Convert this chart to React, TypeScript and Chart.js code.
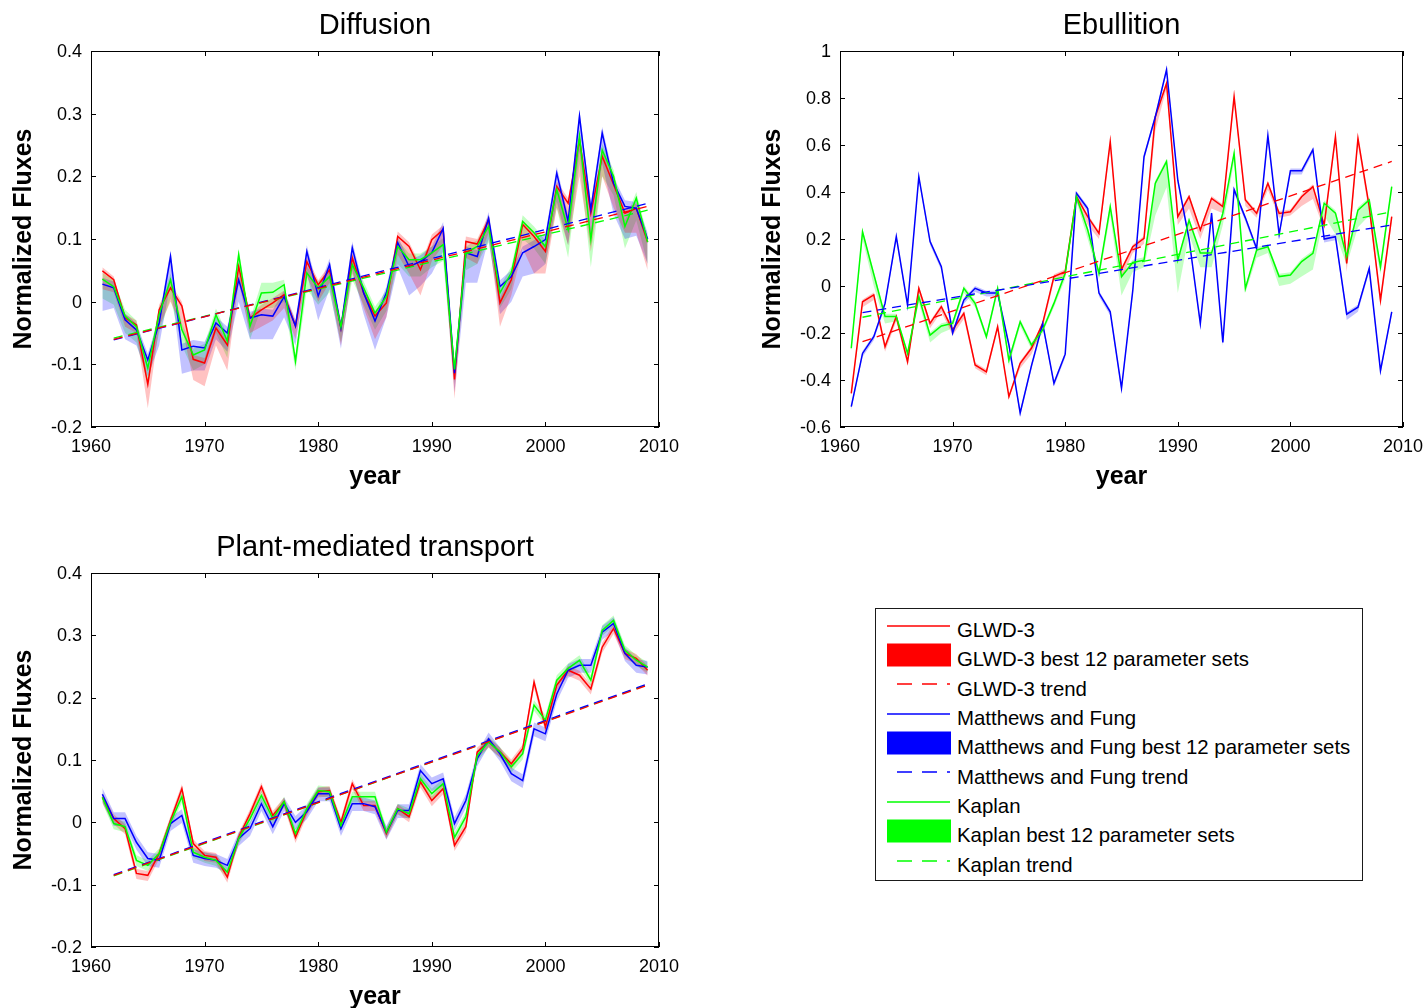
import React, { useEffect, useRef } from 'react';
import { Chart, registerables } from 'chart.js';

Chart.register(...registerables);

const FONT = '"Liberation Sans", Arial, Helvetica, sans-serif';

const RED = '#ff0000';
const BLUE = '#0000ff';
const GREEN = '#00ff00';
const RED_BAND = 'rgba(255,0,0,0.24)';
const BLUE_BAND = 'rgba(0,0,255,0.24)';
const GREEN_BAND = 'rgba(0,255,0,0.24)';

const YEARS = [
  1961, 1962, 1963, 1964, 1965, 1966, 1967, 1968, 1969, 1970,
  1971, 1972, 1973, 1974, 1975, 1976, 1977, 1978, 1979, 1980,
  1981, 1982, 1983, 1984, 1985, 1986, 1987, 1988, 1989, 1990,
  1991, 1992, 1993, 1994, 1995, 1996, 1997, 1998, 1999, 2000,
  2001, 2002, 2003, 2004, 2005, 2006, 2007, 2008, 2009,
];
const TREND_YEARS = [1962, 2009];

const X_TICKS = { min: 1960, max: 2010, step: 10 };

// ---------------- Diffusion ----------------
const DIFF_GLWD = [
  0.049, 0.035, -0.026, -0.037, -0.132, -0.013, 0.022, -0.007, -0.092, -0.098,
  -0.042, -0.069, 0.056, -0.026, -0.013, -0.002, 0.011, -0.039, 0.064, 0.027,
  0.051, -0.042, 0.070, 0.014, -0.023, -0.002, 0.104, 0.088, 0.051, 0.099,
  0.115, -0.124, 0.096, 0.092, 0.131, -0.002, 0.035, 0.123, 0.104, 0.080,
  0.184, 0.157, 0.258, 0.141, 0.232, 0.187, 0.141, 0.149, 0.095,
];
const DIFF_GLWD_LO = [
  0.020, 0.015, -0.040, -0.050, -0.170, -0.040, 0.000, -0.040, -0.125, -0.135,
  -0.070, -0.110, 0.030, -0.050, -0.040, -0.030, -0.010, -0.060, 0.040, 0.000,
  0.030, -0.070, 0.045, -0.010, -0.060, -0.025, 0.075, 0.045, 0.010, 0.065,
  0.090, -0.155, 0.070, 0.060, 0.110, -0.040, 0.010, 0.085, 0.045, 0.045,
  0.150, 0.090, 0.200, 0.080, 0.200, 0.150, 0.110, 0.110, 0.050,
];
const DIFF_GLWD_HI = [
  0.055, 0.040, -0.020, -0.030, -0.125, -0.005, 0.030, 0.000, -0.085, -0.090,
  -0.035, -0.062, 0.064, -0.020, -0.005, 0.006, 0.018, -0.032, 0.072, 0.034,
  0.058, -0.035, 0.078, 0.022, -0.015, 0.006, 0.112, 0.095, 0.058, 0.107,
  0.122, -0.116, 0.104, 0.100, 0.138, 0.006, 0.043, 0.130, 0.112, 0.088,
  0.192, 0.165, 0.266, 0.149, 0.240, 0.195, 0.149, 0.157, 0.103,
];
const DIFF_GLWD_TREND = [-0.060, 0.152];

const DIFF_MF = [
  0.028, 0.022, -0.029, -0.045, -0.093, -0.034, 0.072, -0.077, -0.071, -0.074,
  -0.034, -0.050, 0.035, -0.026, -0.021, -0.023, 0.008, -0.039, 0.080, 0.009,
  0.059, -0.042, 0.086, 0.014, -0.031, 0.014, 0.094, 0.056, 0.064, 0.078,
  0.117, -0.114, 0.078, 0.072, 0.133, 0.024, 0.040, 0.078, 0.088, 0.099,
  0.205, 0.128, 0.296, 0.147, 0.269, 0.189, 0.152, 0.149, 0.100,
];
const DIFF_MF_LO = [
  -0.015, -0.010, -0.060, -0.070, -0.120, -0.070, 0.030, -0.115, -0.110, -0.110,
  -0.060, -0.080, 0.000, -0.060, -0.060, -0.060, -0.025, -0.070, 0.045, -0.030,
  0.020, -0.075, 0.050, -0.020, -0.077, -0.025, 0.055, 0.010, 0.025, 0.045,
  0.080, -0.145, 0.030, 0.030, 0.100, -0.020, 0.000, 0.040, 0.045, 0.060,
  0.160, 0.090, 0.240, 0.100, 0.220, 0.140, 0.100, 0.105, 0.060,
];
const DIFF_MF_HI = [
  0.038, 0.032, -0.019, -0.035, -0.083, -0.024, 0.082, -0.067, -0.061, -0.064,
  -0.024, -0.040, 0.045, -0.016, -0.011, -0.013, 0.018, -0.029, 0.090, 0.019,
  0.069, -0.032, 0.096, 0.024, -0.021, 0.024, 0.104, 0.066, 0.074, 0.088,
  0.127, -0.104, 0.088, 0.082, 0.143, 0.034, 0.050, 0.088, 0.098, 0.109,
  0.215, 0.138, 0.306, 0.157, 0.279, 0.199, 0.162, 0.159, 0.110,
];
const DIFF_MF_TREND = [-0.061, 0.157];

const DIFF_KAPLAN = [
  0.036, 0.024, -0.023, -0.040, -0.106, -0.020, 0.035, -0.045, -0.085, -0.077,
  -0.021, -0.063, 0.075, -0.039, 0.014, 0.015, 0.027, -0.095, 0.046, 0.022,
  0.040, -0.040, 0.059, 0.022, -0.018, 0.008, 0.088, 0.067, 0.067, 0.078,
  0.091, -0.108, 0.078, 0.088, 0.120, 0.014, 0.046, 0.128, 0.110, 0.088,
  0.179, 0.115, 0.264, 0.099, 0.242, 0.200, 0.120, 0.165, 0.095,
];
const DIFF_KAPLAN_LO = [
  0.005, -0.005, -0.050, -0.065, -0.130, -0.050, 0.005, -0.070, -0.110, -0.100,
  -0.050, -0.090, 0.045, -0.060, -0.010, -0.010, 0.000, -0.110, 0.020, -0.005,
  0.015, -0.065, 0.035, -0.005, -0.045, -0.015, 0.060, 0.040, 0.040, 0.055,
  0.065, -0.130, 0.050, 0.060, 0.095, -0.010, 0.020, 0.100, 0.085, 0.060,
  0.150, 0.070, 0.220, 0.055, 0.200, 0.170, 0.085, 0.130, 0.060,
];
const DIFF_KAPLAN_HI = [
  0.046, 0.034, -0.013, -0.030, -0.096, -0.010, 0.045, -0.035, -0.075, -0.067,
  -0.011, -0.053, 0.085, -0.029, 0.030, 0.030, 0.035, -0.085, 0.056, 0.032,
  0.050, -0.030, 0.069, 0.032, -0.008, 0.018, 0.098, 0.077, 0.077, 0.088,
  0.101, -0.098, 0.088, 0.098, 0.130, 0.024, 0.056, 0.138, 0.120, 0.098,
  0.189, 0.125, 0.274, 0.109, 0.252, 0.210, 0.130, 0.175, 0.105,
];
const DIFF_KAPLAN_TREND = [-0.058, 0.146];

// ---------------- Ebullition ----------------
const EBUL_GLWD = [
  -0.457, -0.067, -0.038, -0.258, -0.130, -0.322, -0.010, -0.159, -0.088, -0.187,
  -0.116, -0.336, -0.365, -0.173, -0.471, -0.329, -0.265, -0.159, 0.040, 0.061,
  0.380, 0.295, 0.224, 0.614, 0.070, 0.167, 0.203, 0.720, 0.862, 0.295,
  0.380, 0.238, 0.373, 0.338, 0.806, 0.366, 0.309, 0.437, 0.309, 0.316,
  0.380, 0.423, 0.260, 0.635, 0.096, 0.628, 0.338, -0.060, 0.295,
];
const EBUL_GLWD_LO = [
  -0.470, -0.090, -0.060, -0.280, -0.150, -0.340, -0.030, -0.180, -0.110, -0.210,
  -0.140, -0.350, -0.380, -0.190, -0.480, -0.350, -0.290, -0.180, 0.020, 0.040,
  0.360, 0.260, 0.200, 0.590, 0.030, 0.140, 0.180, 0.660, 0.840, 0.260,
  0.330, 0.200, 0.330, 0.310, 0.780, 0.340, 0.290, 0.410, 0.290, 0.300,
  0.340, 0.370, 0.240, 0.610, 0.060, 0.600, 0.310, -0.090, 0.270,
];
const EBUL_GLWD_HI = [
  -0.447, -0.057, -0.028, -0.248, -0.120, -0.312, 0.000, -0.149, -0.078, -0.177,
  -0.106, -0.326, -0.355, -0.163, -0.461, -0.319, -0.255, -0.149, 0.050, 0.071,
  0.390, 0.305, 0.234, 0.624, 0.080, 0.177, 0.213, 0.730, 0.872, 0.305,
  0.390, 0.248, 0.383, 0.348, 0.816, 0.376, 0.319, 0.447, 0.319, 0.326,
  0.390, 0.433, 0.270, 0.645, 0.106, 0.638, 0.348, -0.050, 0.305,
];
const EBUL_GLWD_TREND = [-0.237, 0.530];

const EBUL_MF = [
  -0.513, -0.287, -0.216, -0.074, 0.210, -0.081, 0.465, 0.189, 0.082, -0.200,
  -0.060, -0.010, -0.030, -0.030, -0.250, -0.540, -0.340, -0.160, -0.414, -0.290,
  0.394, 0.330, -0.030, -0.110, -0.435, -0.020, 0.550, 0.720, 0.920, 0.450,
  0.200, -0.160, 0.310, -0.240, 0.410, 0.290, 0.160, 0.640, 0.220, 0.490,
  0.490, 0.580, 0.200, 0.210, -0.120, -0.090, 0.075, -0.360, -0.110,
];
const EBUL_MF_LO = [
  -0.528, -0.302, -0.231, -0.089, 0.195, -0.096, 0.450, 0.174, 0.067, -0.215,
  -0.075, -0.025, -0.045, -0.045, -0.265, -0.555, -0.355, -0.175, -0.429, -0.305,
  0.379, 0.315, -0.045, -0.125, -0.450, -0.035, 0.535, 0.705, 0.905, 0.435,
  0.185, -0.175, 0.295, -0.255, 0.395, 0.275, 0.145, 0.625, 0.205, 0.475,
  0.475, 0.565, 0.185, 0.195, -0.145, -0.110, 0.060, -0.375, -0.125,
];
const EBUL_MF_HI = [
  -0.503, -0.277, -0.206, -0.064, 0.220, -0.071, 0.475, 0.199, 0.092, -0.190,
  -0.050, 0.000, -0.020, -0.020, -0.240, -0.530, -0.330, -0.150, -0.404, -0.280,
  0.404, 0.340, -0.020, -0.100, -0.425, -0.010, 0.560, 0.730, 0.930, 0.460,
  0.210, -0.150, 0.320, -0.230, 0.420, 0.300, 0.170, 0.650, 0.230, 0.500,
  0.500, 0.590, 0.210, 0.220, -0.110, -0.080, 0.085, -0.350, -0.100,
];
const EBUL_MF_TREND = [-0.113, 0.260];

const EBUL_KAPLAN = [
  -0.265, 0.231, 0.050, -0.130, -0.130, -0.287, -0.045, -0.209, -0.170, -0.159,
  -0.010, -0.074, -0.216, -0.010, -0.315, -0.152, -0.251, -0.187, -0.074, 0.054,
  0.380, 0.238, 0.054, 0.338, 0.040, 0.100, 0.110, 0.437, 0.530, 0.110,
  0.280, 0.140, 0.140, 0.310, 0.565, -0.010, 0.153, 0.167, 0.040, 0.047,
  0.104, 0.139, 0.352, 0.310, 0.125, 0.323, 0.366, 0.082, 0.423,
];
const EBUL_KAPLAN_LO = [
  -0.280, 0.200, 0.000, -0.160, -0.150, -0.300, -0.070, -0.240, -0.200, -0.180,
  -0.030, -0.090, -0.230, -0.030, -0.340, -0.170, -0.270, -0.200, -0.090, 0.030,
  0.360, 0.200, 0.030, 0.300, -0.040, 0.060, 0.080, 0.300, 0.420, -0.030,
  0.220, 0.080, 0.080, 0.260, 0.530, -0.030, 0.120, 0.140, 0.000, 0.010,
  0.040, 0.070, 0.300, 0.220, 0.090, 0.250, 0.300, 0.050, 0.400,
];
const EBUL_KAPLAN_HI = [
  -0.253, 0.243, 0.062, -0.118, -0.118, -0.275, -0.033, -0.197, -0.158, -0.147,
  0.002, -0.062, -0.204, 0.002, -0.303, -0.140, -0.239, -0.175, -0.062, 0.066,
  0.392, 0.250, 0.066, 0.350, 0.052, 0.112, 0.122, 0.449, 0.542, 0.122,
  0.292, 0.152, 0.152, 0.322, 0.577, 0.002, 0.165, 0.179, 0.052, 0.059,
  0.116, 0.151, 0.364, 0.322, 0.137, 0.335, 0.378, 0.094, 0.435,
];
const EBUL_KAPLAN_TREND = [-0.133, 0.316];

// ---------------- Plant-mediated transport ----------------
const PLANT_GLWD = [
  0.040, 0.006, -0.010, -0.082, -0.085, -0.050, 0.003, 0.054, -0.034, -0.053,
  -0.056, -0.088, -0.024, 0.014, 0.057, 0.011, 0.033, -0.024, 0.019, 0.049,
  0.051, 0.000, 0.062, 0.027, 0.027, -0.018, 0.022, 0.009, 0.065, 0.035,
  0.054, -0.037, -0.007, 0.113, 0.129, 0.113, 0.094, 0.118, 0.225, 0.153,
  0.220, 0.244, 0.236, 0.214, 0.281, 0.311, 0.271, 0.263, 0.244,
];
const PLANT_GLWD_LO = [
  0.031, -0.003, -0.019, -0.091, -0.094, -0.059, -0.006, 0.045, -0.043, -0.062,
  -0.065, -0.097, -0.033, 0.005, 0.048, 0.002, 0.024, -0.033, 0.010, 0.040,
  0.042, -0.009, 0.053, 0.018, 0.018, -0.027, 0.013, 0.000, 0.056, 0.026,
  0.045, -0.046, -0.016, 0.104, 0.120, 0.104, 0.085, 0.109, 0.216, 0.144,
  0.211, 0.235, 0.227, 0.205, 0.272, 0.302, 0.262, 0.254, 0.235,
];
const PLANT_GLWD_HI = [
  0.047, 0.013, -0.003, -0.075, -0.078, -0.043, 0.010, 0.061, -0.027, -0.046,
  -0.049, -0.081, -0.017, 0.021, 0.064, 0.018, 0.040, -0.017, 0.026, 0.056,
  0.058, 0.007, 0.069, 0.034, 0.034, -0.011, 0.029, 0.016, 0.072, 0.042,
  0.061, -0.030, 0.000, 0.120, 0.136, 0.120, 0.101, 0.125, 0.232, 0.160,
  0.227, 0.251, 0.243, 0.221, 0.288, 0.318, 0.278, 0.270, 0.251,
];
const PLANT_GLWD_TREND = [-0.085, 0.220];

const PLANT_MF = [
  0.045, 0.006, 0.006, -0.032, -0.058, -0.061, -0.002, 0.011, -0.053, -0.058,
  -0.061, -0.069, -0.026, -0.010, 0.030, -0.007, 0.030, 0.000, 0.017, 0.046,
  0.046, -0.010, 0.030, 0.030, 0.025, -0.016, 0.019, 0.019, 0.083, 0.062,
  0.070, -0.002, 0.035, 0.102, 0.134, 0.110, 0.078, 0.067, 0.150, 0.142,
  0.206, 0.244, 0.252, 0.252, 0.305, 0.319, 0.271, 0.252, 0.249,
];
const PLANT_MF_LO = [
  0.033, -0.006, -0.006, -0.044, -0.070, -0.073, -0.014, -0.001, -0.065, -0.070,
  -0.073, -0.081, -0.038, -0.022, 0.018, -0.019, 0.018, -0.012, 0.005, 0.034,
  0.034, -0.022, 0.018, 0.018, 0.013, -0.028, 0.007, 0.007, 0.071, 0.050,
  0.058, -0.014, 0.023, 0.090, 0.122, 0.098, 0.066, 0.055, 0.138, 0.130,
  0.194, 0.232, 0.240, 0.240, 0.293, 0.307, 0.259, 0.240, 0.237,
];
const PLANT_MF_HI = [
  0.055, 0.016, 0.016, -0.022, -0.048, -0.051, 0.008, 0.021, -0.043, -0.048,
  -0.051, -0.059, -0.016, 0.000, 0.040, 0.003, 0.040, 0.010, 0.027, 0.056,
  0.056, 0.000, 0.040, 0.040, 0.035, -0.006, 0.029, 0.029, 0.093, 0.072,
  0.080, 0.008, 0.045, 0.112, 0.144, 0.120, 0.088, 0.077, 0.160, 0.152,
  0.216, 0.254, 0.262, 0.262, 0.315, 0.329, 0.281, 0.262, 0.259,
];
const PLANT_MF_TREND = [-0.084, 0.222];

const PLANT_KAPLAN = [
  0.040, -0.002, -0.007, -0.061, -0.069, -0.050, 0.000, 0.041, -0.048, -0.056,
  -0.061, -0.080, -0.026, 0.006, 0.043, 0.006, 0.033, -0.018, 0.022, 0.051,
  0.049, -0.005, 0.041, 0.041, 0.041, -0.016, 0.022, 0.014, 0.070, 0.046,
  0.062, -0.024, 0.009, 0.107, 0.129, 0.113, 0.089, 0.110, 0.188, 0.164,
  0.228, 0.247, 0.260, 0.228, 0.308, 0.324, 0.276, 0.260, 0.249,
];
const PLANT_KAPLAN_LO = [
  0.031, -0.011, -0.016, -0.070, -0.078, -0.059, -0.009, 0.032, -0.057, -0.065,
  -0.070, -0.089, -0.035, -0.003, 0.034, -0.003, 0.024, -0.027, 0.013, 0.042,
  0.040, -0.014, 0.032, 0.032, 0.032, -0.025, 0.013, 0.005, 0.061, 0.037,
  0.053, -0.033, 0.000, 0.098, 0.120, 0.104, 0.080, 0.101, 0.179, 0.155,
  0.219, 0.238, 0.251, 0.219, 0.299, 0.315, 0.267, 0.251, 0.240,
];
const PLANT_KAPLAN_HI = [
  0.048, 0.006, 0.001, -0.053, -0.061, -0.042, 0.008, 0.049, -0.040, -0.048,
  -0.053, -0.072, -0.018, 0.014, 0.051, 0.014, 0.041, -0.010, 0.030, 0.059,
  0.057, 0.003, 0.049, 0.049, 0.049, -0.008, 0.030, 0.022, 0.078, 0.054,
  0.070, -0.016, 0.017, 0.115, 0.137, 0.121, 0.097, 0.118, 0.196, 0.172,
  0.236, 0.255, 0.268, 0.236, 0.316, 0.332, 0.284, 0.268, 0.257,
];
const PLANT_KAPLAN_TREND = [-0.086, 0.221];

const LEGEND_LABELS = [
  'GLWD-3',
  'GLWD-3 best 12 parameter sets',
  'GLWD-3 trend',
  'Matthews and Fung',
  'Matthews and Fung best 12 parameter sets',
  'Matthews and Fung trend',
  'Kaplan',
  'Kaplan best 12 parameter sets',
  'Kaplan trend',
];

type Series = {
  color: string;
  band: string;
  line: number[];
  lo: number[];
  hi: number[];
  trend: number[];
};

type PanelSpec = {
  title: string;
  left: number;
  top: number;
  width: number;
  height: number;
  padRight: number;
  yAxisWidth: number;
  xAxisHeight: number;
  yTitlePad: number;
  xTitlePad: number;
  yMin: number;
  yMax: number;
  yStep: number;
  series: Series[];
};

const PANELS: PanelSpec[] = [
  {
    title: 'Diffusion',
    left: 0, top: 0, width: 700, height: 500,
    padRight: 41, yAxisWidth: 91, xAxisHeight: 73, yTitlePad: 9, xTitlePad: 8,
    yMin: -0.2, yMax: 0.4, yStep: 0.1,
    series: [
      { color: RED, band: RED_BAND, line: DIFF_GLWD, lo: DIFF_GLWD_LO, hi: DIFF_GLWD_HI, trend: DIFF_GLWD_TREND },
      { color: BLUE, band: BLUE_BAND, line: DIFF_MF, lo: DIFF_MF_LO, hi: DIFF_MF_HI, trend: DIFF_MF_TREND },
      { color: GREEN, band: GREEN_BAND, line: DIFF_KAPLAN, lo: DIFF_KAPLAN_LO, hi: DIFF_KAPLAN_HI, trend: DIFF_KAPLAN_TREND },
    ],
  },
  {
    title: 'Ebullition',
    left: 750, top: 0, width: 678, height: 500,
    padRight: 25, yAxisWidth: 90, xAxisHeight: 73, yTitlePad: 8.5, xTitlePad: 8,
    yMin: -0.6, yMax: 1, yStep: 0.2,
    series: [
      { color: RED, band: RED_BAND, line: EBUL_GLWD, lo: EBUL_GLWD_LO, hi: EBUL_GLWD_HI, trend: EBUL_GLWD_TREND },
      { color: BLUE, band: BLUE_BAND, line: EBUL_MF, lo: EBUL_MF_LO, hi: EBUL_MF_HI, trend: EBUL_MF_TREND },
      { color: GREEN, band: GREEN_BAND, line: EBUL_KAPLAN, lo: EBUL_KAPLAN_LO, hi: EBUL_KAPLAN_HI, trend: EBUL_KAPLAN_TREND },
    ],
  },
  {
    title: 'Plant-mediated transport',
    left: 0, top: 522, width: 700, height: 486,
    padRight: 41, yAxisWidth: 91, xAxisHeight: 61, yTitlePad: 9, xTitlePad: -4,
    yMin: -0.2, yMax: 0.4, yStep: 0.1,
    series: [
      { color: RED, band: RED_BAND, line: PLANT_GLWD, lo: PLANT_GLWD_LO, hi: PLANT_GLWD_HI, trend: PLANT_GLWD_TREND },
      { color: BLUE, band: BLUE_BAND, line: PLANT_MF, lo: PLANT_MF_LO, hi: PLANT_MF_HI, trend: PLANT_MF_TREND },
      { color: GREEN, band: GREEN_BAND, line: PLANT_KAPLAN, lo: PLANT_KAPLAN_LO, hi: PLANT_KAPLAN_HI, trend: PLANT_KAPLAN_TREND },
    ],
  },
];

const LINE_WIDTH = 1.5;
const TREND_DASH = [9, 6];

function toPoints(xs: number[], ys: number[]) {
  return xs.map((x, i) => ({ x, y: ys[i] }));
}

function buildDatasets(series: Series[]) {
  const datasets: any[] = [];
  // shaded spread of the 12 best parameter sets (upper edge, then lower edge filled to it)
  series.forEach((s) => {
    const hiIndex = datasets.length;
    datasets.push({
      data: toPoints(YEARS, s.hi),
      borderColor: 'rgba(0,0,0,0)',
      borderWidth: 0,
      pointRadius: 0,
      fill: false,
      order: 10,
    });
    datasets.push({
      data: toPoints(YEARS, s.lo),
      borderColor: 'rgba(0,0,0,0)',
      borderWidth: 0,
      pointRadius: 0,
      backgroundColor: s.band,
      fill: { target: hiIndex },
      order: 10,
    });
  });
  // best-fit series
  series.forEach((s, k) => {
    datasets.push({
      data: toPoints(YEARS, s.line),
      borderColor: s.color,
      borderWidth: LINE_WIDTH,
      pointRadius: 0,
      fill: false,
      order: 3 - k,
    });
  });
  // linear trends
  series.forEach((s) => {
    datasets.push({
      data: toPoints(TREND_YEARS, s.trend),
      borderColor: s.color,
      borderWidth: 1.3,
      borderDash: TREND_DASH,
      pointRadius: 0,
      fill: false,
      order: 0,
    });
  });
  return datasets;
}

function formatY(v: number) {
  return String(parseFloat(v.toFixed(1)));
}

// Box frame with inward tick marks on all four sides, plus tick labels
const axesFrame = {
  id: 'axesFrame',
  afterDraw(chart: any) {
    const { ctx, chartArea: a, scales } = chart;
    const xs = scales.x;
    const ys = scales.y;
    const tickLen = 5;
    ctx.save();
    ctx.strokeStyle = '#000';
    ctx.lineWidth = 1;
    ctx.strokeRect(a.left + 0.5, a.top + 0.5, a.right - a.left - 1, a.bottom - a.top - 1);
    ctx.beginPath();
    xs.ticks.forEach((t: any) => {
      const px = Math.round(xs.getPixelForValue(t.value)) + 0.5;
      ctx.moveTo(px, a.bottom);
      ctx.lineTo(px, a.bottom - tickLen);
      ctx.moveTo(px, a.top);
      ctx.lineTo(px, a.top + tickLen);
    });
    ys.ticks.forEach((t: any) => {
      const py = Math.round(ys.getPixelForValue(t.value)) + 0.5;
      ctx.moveTo(a.left, py);
      ctx.lineTo(a.left + tickLen, py);
      ctx.moveTo(a.right, py);
      ctx.lineTo(a.right - tickLen, py);
    });
    ctx.stroke();

    ctx.fillStyle = '#000';
    ctx.font = `18px ${FONT}`;
    ctx.textBaseline = 'middle';
    ctx.textAlign = 'center';
    xs.ticks.forEach((t: any) => {
      ctx.fillText(String(Math.round(t.value)), xs.getPixelForValue(t.value), a.bottom + 20);
    });
    ctx.textAlign = 'right';
    ys.ticks.forEach((t: any) => {
      ctx.fillText(formatY(t.value), a.left - 9, ys.getPixelForValue(t.value) + 1);
    });
    ctx.restore();
  },
};

function Panel({ spec }: { spec: PanelSpec }) {
  const ref = useRef<HTMLCanvasElement | null>(null);

  useEffect(() => {
    if (!ref.current) return;
    const chart = new Chart(ref.current, {
      type: 'line',
      data: { datasets: buildDatasets(spec.series) },
      options: {
        animation: false,
        responsive: false,
        devicePixelRatio: 1,
        events: [],
        layout: { padding: { left: 0, right: spec.padRight, top: 0, bottom: 0 } },
        plugins: {
          legend: { display: false },
          tooltip: { enabled: false },
          title: {
            display: true,
            text: spec.title,
            fullSize: false,
            color: '#000',
            font: { family: FONT, size: 29, weight: 'normal', lineHeight: 1.2 },
            padding: { top: 8.4, bottom: 7.8 },
          },
        },
        scales: {
          x: {
            type: 'linear',
            min: X_TICKS.min,
            max: X_TICKS.max,
            ticks: { stepSize: X_TICKS.step, display: false },
            grid: { display: false, drawTicks: false },
            border: { display: false },
            title: {
              display: true,
              text: 'year',
              color: '#000',
              font: { family: FONT, size: 25, weight: 'bold', lineHeight: 1.2 },
              padding: { top: 0, bottom: spec.xTitlePad },
            },
            afterFit: (scale: any) => {
              scale.height = spec.xAxisHeight;
            },
          },
          y: {
            type: 'linear',
            min: spec.yMin,
            max: spec.yMax,
            ticks: { stepSize: spec.yStep, display: false },
            grid: { display: false, drawTicks: false },
            border: { display: false },
            title: {
              display: true,
              text: 'Normalized Fluxes',
              color: '#000',
              font: { family: FONT, size: 25, weight: 'bold', lineHeight: 1.2 },
              padding: { top: spec.yTitlePad, bottom: 0 },
            },
            afterFit: (scale: any) => {
              scale.width = spec.yAxisWidth;
            },
          },
        },
      } as any,
      plugins: [axesFrame],
    });
    return () => chart.destroy();
  }, [spec]);

  return (
    <canvas
      ref={ref}
      width={spec.width}
      height={spec.height}
      style={{
        position: 'absolute',
        left: spec.left,
        top: spec.top,
        width: spec.width,
        height: spec.height,
        display: 'block',
      }}
    />
  );
}

const LEGEND_KEYS = [
  { color: RED, kind: 'line' },
  { color: RED, kind: 'patch' },
  { color: RED, kind: 'dash' },
  { color: BLUE, kind: 'line' },
  { color: BLUE, kind: 'patch' },
  { color: BLUE, kind: 'dash' },
  { color: GREEN, kind: 'line' },
  { color: GREEN, kind: 'patch' },
  { color: GREEN, kind: 'dash' },
];

function Swatch({ color, kind }: { color: string; kind: string }) {
  if (kind === 'patch') {
    return <rect x={12} y={3.5} width={64} height={23} fill={color} />;
  }
  if (kind === 'dash') {
    return <line x1={22} x2={75} y1={15} y2={15} stroke={color} strokeWidth={1.3} strokeDasharray="15 10" />;
  }
  return <line x1={12} x2={75} y1={15} y2={15} stroke={color} strokeWidth={1.3} />;
}

function Legend() {
  return (
    <div
      style={{
        position: 'absolute',
        left: 875,
        top: 608,
        width: 488,
        height: 273,
        border: '1px solid #1a1a1a',
        boxSizing: 'border-box',
        background: '#fff',
      }}
    >
      {LEGEND_LABELS.map((label, i) => {
        const cy = 22 + i * 29.35;
        const key = LEGEND_KEYS[i];
        return (
          <React.Fragment key={label}>
            <svg
              width={80}
              height={30}
              style={{ position: 'absolute', left: -1, top: cy - 4.3 - 15 - 1, overflow: 'visible' }}
            >
              <Swatch color={key.color} kind={key.kind} />
            </svg>
            <div
              style={{
                position: 'absolute',
                left: 81,
                top: cy - 12 - 1,
                height: 24,
                lineHeight: '24px',
                fontSize: '20.4px',
                fontFamily: FONT,
                color: '#000',
                whiteSpace: 'nowrap',
              }}
            >
              {label}
            </div>
          </React.Fragment>
        );
      })}
    </div>
  );
}

export default function App() {
  return (
    <div
      style={{
        position: 'fixed',
        left: 0,
        top: 0,
        width: 1428,
        height: 1008,
        background: '#fff',
        overflow: 'hidden',
      }}
    >
      {PANELS.map((p) => (
        <Panel key={p.title} spec={p} />
      ))}
      <Legend />
    </div>
  );
}
